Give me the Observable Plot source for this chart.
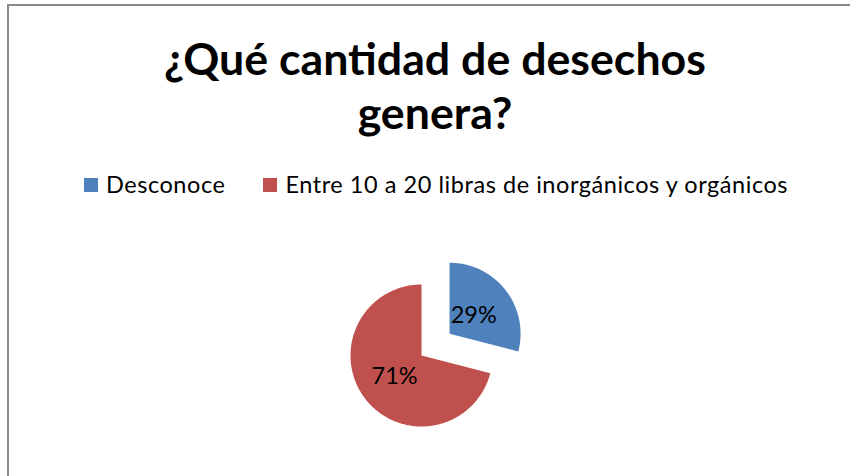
<!DOCTYPE html>
<html>
<head>
<meta charset="utf-8">
<script src="https://cdn.jsdelivr.net/npm/d3@7"></script>
<script src="https://cdn.jsdelivr.net/npm/@observablehq/plot@0.6"></script>
<style>
  html, body { margin: 0; padding: 0; background: #fff; }
  #wrap { position: relative; width: 850px; height: 476px; overflow: hidden; background: #fff; }
  #frame { position: absolute; left: 7px; top: 4px; width: 900px; height: 600px;
           border-left: 2px solid #8a8a8a; border-top: 2px solid #8a8a8a; }
  #title { position: absolute; left: 0; width: 870px; top: 31px; text-align: center;
           font-family: Lato, sans-serif; font-weight: bold; font-size: 44.7px; line-height: 54px; color: #000; }
  #legend { position: absolute; left: 84px; top: 170px; font-family: Lato, sans-serif;
            font-size: 23.5px; letter-spacing: 0.55px; line-height: 28px; color: #000; white-space: nowrap; display: flex; }
  .item { display: flex; align-items: center; }
  .sw { width: 14px; height: 14px; display: inline-block; margin-right: 8px; position: relative; top: 1px; }
  #chart { position: absolute; left: 0; top: 0; }
</style>
</head>
<body>
<div id="wrap">
  <div id="chart"></div>
  <div id="frame"></div>
  <div id="title"></div>
  <div id="legend"></div>
</div>
<script>
const titleLines = ["¿Qué cantidad de desechos", "genera?"];
const categories = ["Desconoce", "Entre 10 a 20 libras de inorgánicos y orgánicos"];
const values = [29, 71];
const colors = ["#4F81BD", "#C0504D"];
const explode = [0.5, 0];

// title
const t = document.getElementById("title");
t.innerHTML = titleLines.join("<br>");

// legend
const lg = document.getElementById("legend");
categories.forEach((c, i) => {
  const it = document.createElement("div");
  it.className = "item";
  it.style.marginRight = i === 0 ? "38px" : "0";
  const sw = document.createElement("span");
  sw.className = "sw";
  sw.style.background = colors[i];
  const tx = document.createElement("span");
  tx.textContent = c;
  it.appendChild(sw); it.appendChild(tx);
  lg.appendChild(it);
});

// pie geometry in unit-radius coordinates (angles clockwise from north)
const total = d3.sum(values);
const R = 71, cx = 421, cy = 355, W = 850, H = 476;
const polys = [];
const labels = [];
let acc = 0;
values.forEach((v, i) => {
  const a0 = acc / total * 2 * Math.PI;
  const a1 = (acc + v) / total * 2 * Math.PI;
  acc += v;
  const mid = (a0 + a1) / 2;
  const ox = explode[i] * Math.sin(mid), oy = explode[i] * Math.cos(mid);
  polys.push({cat: categories[i], x: ox, y: oy});
  const n = Math.max(2, Math.ceil((a1 - a0) / (Math.PI / 180)));
  for (let k = 0; k <= n; k++) {
    const a = a0 + (a1 - a0) * k / n;
    polys.push({cat: categories[i], x: ox + Math.sin(a), y: oy + Math.cos(a)});
  }
  polys.push({cat: categories[i], x: ox, y: oy});
  const lr = i === 0 ? 0.43 : 0.48;
  labels.push({cat: categories[i], x: ox + lr * Math.sin(mid), y: oy + lr * Math.cos(mid), text: Math.round(v / total * 100) + "%"});
});

const plot = Plot.plot({
  width: W, height: H,
  margin: 0,
  x: {domain: [-cx / R, (W - cx) / R], range: [0, W], axis: null},
  y: {domain: [-(H - cy) / R, cy / R], range: [H, 0], axis: null},
  color: {domain: categories, range: colors},
  marks: [
    Plot.line(polys, {x: "x", y: "y", z: "cat", fill: "cat", stroke: "none", curve: "linear"}),
    Plot.text(labels, {x: "x", y: "y", text: "text", fill: "#000", fontSize: 23.5, fontFamily: "Lato, sans-serif"})
  ],
  style: {background: "transparent"}
});
document.getElementById("chart").appendChild(plot);
</script>
</body>
</html>
